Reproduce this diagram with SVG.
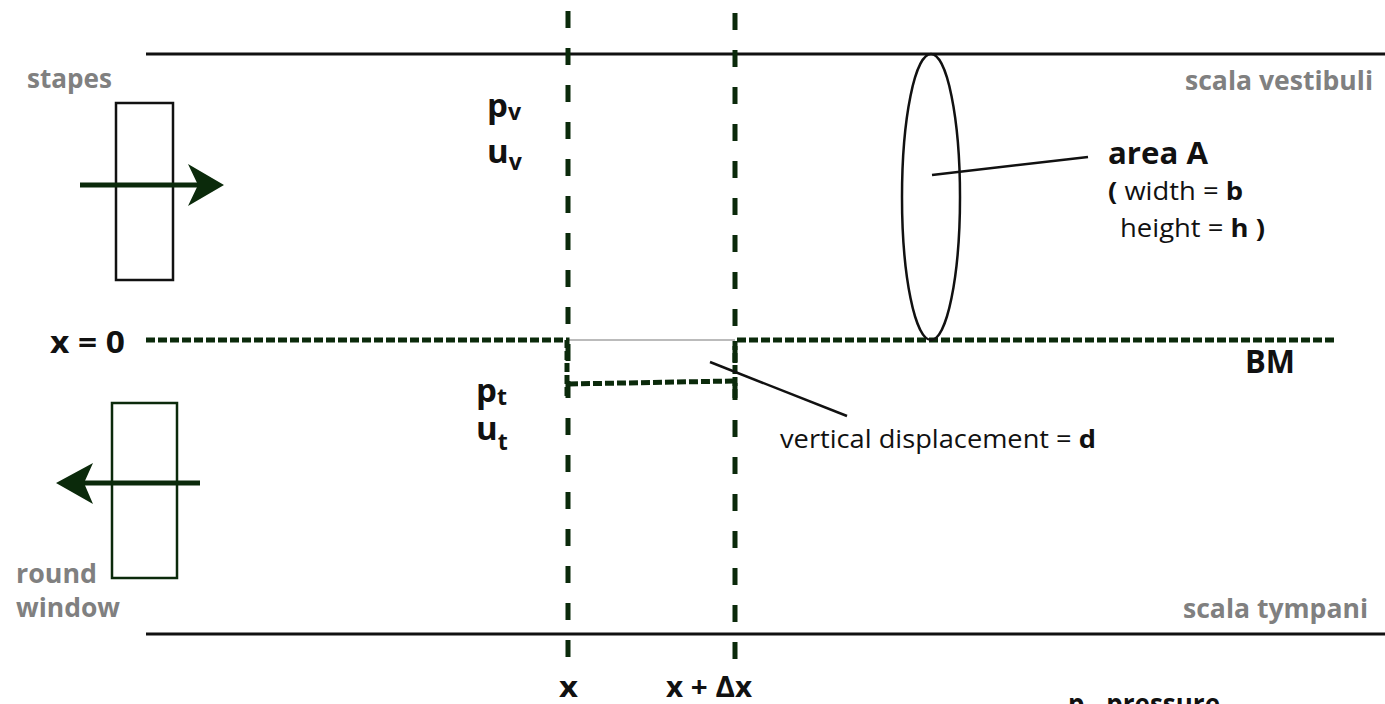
<svg xmlns="http://www.w3.org/2000/svg" width="1385" height="704" viewBox="0 0 1385 704">
<style>
.wall{stroke:#111;stroke-width:3;fill:none}
.vdash{stroke:#0b2a0b;stroke-width:5;fill:none;stroke-dasharray:17 20}
.sdash{stroke:#0b2a0b;stroke-width:5;fill:none;stroke-dasharray:9 3}
.lead{stroke:#111;stroke-width:2.5;fill:none}
.gray{font-family:"Open Sans","Liberation Sans",sans-serif;font-weight:bold;fill:#808080;font-size:27px}
.blk{font-family:"Open Sans","Liberation Sans",sans-serif;font-weight:bold;fill:#111}
.reg{font-family:"Open Sans","Liberation Sans",sans-serif;fill:#111;font-size:25px}
.b{font-weight:bold}
</style>
<rect width="1385" height="704" fill="#fff"/>
<g id="walls">
<line class="wall" x1="146" y1="54" x2="1385" y2="54"/>
<line class="wall" x1="146" y1="634" x2="1385" y2="634"/>
</g>
<g id="connectors">
<line class="vdash" x1="568" y1="11" x2="568" y2="660"/>
<line class="vdash" x1="735" y1="13" x2="735" y2="660"/>
<line x1="568" y1="340" x2="735" y2="340" stroke="#bbb" stroke-width="2"/>
<path class="sdash" d="M146 340 H567 V398"/>
<path class="sdash" d="M735 398 V340 H1335"/>
<path class="sdash" d="M569 384 L733 381"/>
<line class="lead" x1="932" y1="175" x2="1088" y2="157"/>
<line class="lead" x1="710" y1="362" x2="847" y2="416"/>
</g>
<g id="stapes">
<rect x="116" y="103" width="57" height="177" fill="none" stroke="#111" stroke-width="2.5"/>
<line x1="80" y1="185" x2="200" y2="185" stroke="#0b2a0b" stroke-width="5"/>
<polygon points="224,185 188,164 198,185 188,206" fill="#0b2a0b"/>
<text class="gray" x="27" y="88" textLength="85" lengthAdjust="spacingAndGlyphs">stapes</text>
</g>
<g id="round-window">
<rect x="112" y="403" width="65" height="175" fill="none" stroke="#0b2a0b" stroke-width="2.5"/>
<line x1="200" y1="483" x2="80" y2="483" stroke="#0b2a0b" stroke-width="5"/>
<polygon points="56,483 93,463 84,483 93,504" fill="#0b2a0b"/>
<text class="gray" x="16" y="583" textLength="81" lengthAdjust="spacingAndGlyphs">round</text>
<text class="gray" x="16" y="617" textLength="104" lengthAdjust="spacingAndGlyphs">window</text>
</g>
<g id="area">
<ellipse cx="931" cy="197" rx="29" ry="143" fill="none" stroke="#111" stroke-width="2.5"/>
<text class="blk" x="1108" y="164" font-size="31" textLength="100" lengthAdjust="spacingAndGlyphs">area A</text>
<text class="reg" x="1108" y="200" textLength="135" lengthAdjust="spacingAndGlyphs"><tspan class="b">(</tspan> width = <tspan class="b">b</tspan></text>
<text class="reg" x="1120" y="237" textLength="145" lengthAdjust="spacingAndGlyphs">height = <tspan class="b">h )</tspan></text>
</g>
<g id="labels">
<text class="gray" x="1185" y="90" textLength="188" lengthAdjust="spacingAndGlyphs">scala vestibuli</text>
<text class="gray" x="1183" y="618" textLength="185" lengthAdjust="spacingAndGlyphs">scala tympani</text>
<text class="blk" x="50" y="353" font-size="31" textLength="75" lengthAdjust="spacingAndGlyphs">x = 0</text>
<text class="blk" x="1245" y="373" font-size="32" textLength="50" lengthAdjust="spacingAndGlyphs">BM</text>
<text class="blk" x="487" y="117" font-size="33">p<tspan font-size="23" dy="3">v</tspan></text>
<text class="blk" x="487" y="163" font-size="33">u<tspan font-size="23" dy="7">v</tspan></text>
<text class="blk" x="476" y="402" font-size="33">p<tspan font-size="23" dy="3">t</tspan></text>
<text class="blk" x="476" y="440" font-size="33">u<tspan font-size="23" dy="10">t</tspan></text>
<text class="reg" x="780" y="448" textLength="316" lengthAdjust="spacingAndGlyphs">vertical displacement = <tspan class="b">d</tspan></text>
<text class="blk" x="559" y="697" font-size="28" textLength="19" lengthAdjust="spacingAndGlyphs">x</text>
<text class="blk" x="666" y="697" font-size="28" textLength="86" lengthAdjust="spacingAndGlyphs">x + Δx</text>
<text class="blk" x="1068" y="714" font-size="28" textLength="152" lengthAdjust="spacingAndGlyphs">p - pressure</text>
</g>
</svg>
